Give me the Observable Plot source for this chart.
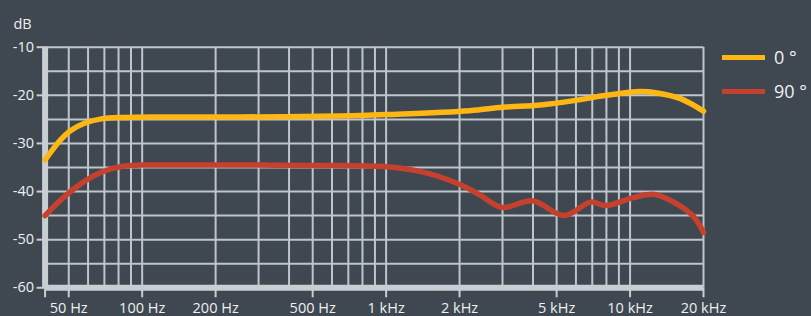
<!DOCTYPE html>
<html>
<head>
<meta charset="utf-8">
<script src="https://cdn.jsdelivr.net/npm/d3@7"></script>
<script src="https://cdn.jsdelivr.net/npm/@observablehq/plot@0.6"></script>
<style>
  html, body { margin: 0; padding: 0; background: #3f4750; }
  #wrap { position: relative; width: 811px; height: 316px; background: #3f4750; font-family: "Open Sans", "Noto Sans", sans-serif; }
  #wrap svg { overflow: visible; }
  #legend { position: absolute; left: 722px; top: 40px; color: #eef0f2; font-size: 18px; }
  .item { display: flex; align-items: center; height: 34px; }
  .swatch { width: 43px; height: 5px; margin-right: 9px; }
</style>
</head>
<body>
<div id="wrap"><div id="legend"></div></div>
<script>
// Series: 0° (on-axis) and 90° response
const yellowHz = [40, 46, 51, 58, 68, 84, 119, 250, 650, 1000, 2200, 3000, 4300, 5900, 8000, 11000, 12900, 16100, 20000];
const yellowDb = [-33.4, -29.4, -27.3, -25.8, -24.9, -24.6, -24.5, -24.5, -24.3, -24.0, -23.2, -22.5, -22.0, -21.1, -20.0, -19.2, -19.5, -20.7, -23.3];
const redHz = [40, 46, 56, 68, 82, 98, 120, 300, 650, 1040, 1430, 1830, 2220, 2440, 2990, 3980, 5370, 6900, 7950, 10400, 12600, 15600, 18300, 20000];
const redDb = [-45.0, -41.9, -38.4, -36.0, -34.8, -34.5, -34.5, -34.5, -34.6, -34.9, -36.0, -37.7, -39.6, -40.8, -43.3, -41.9, -45.0, -42.2, -42.9, -41.2, -40.6, -42.6, -45.3, -48.5];
const seriesNames = ["0 °", "90 °"];
const seriesColors = ["#fdb714", "#c6402e"];

// Axes
const xTicks = [40, 50, 100, 200, 500, 1000, 2000, 5000, 10000, 20000];
const xTickLabels = ["", "50 Hz", "100 Hz", "200 Hz", "500 Hz", "1 kHz", "2 kHz", "5 kHz", "10 kHz", "20 kHz"];
const xGrid = [40, 50, 60, 70, 80, 90, 100, 200, 300, 400, 500, 600, 700, 800, 900, 1000, 2000, 3000, 4000, 5000, 6000, 7000, 8000, 9000, 10000, 20000];
const yTicks = [-60, -50, -40, -30, -20, -10];
const yGrid = [-60, -55, -50, -45, -40, -35, -30, -25, -20, -15, -10];
const yLabel = "dB";

const yellow = yellowHz.map((f, i) => ({f, db: yellowDb[i]}));
const red = redHz.map((f, i) => ({f, db: redDb[i]}));

const gridColor = "#bfc5cb";
const axisColor = "#c9ced3";
const textColor = "#eef0f2";

const chart = Plot.plot({
  width: 811,
  height: 316,
  marginLeft: 44.6,
  marginRight: 108,
  marginTop: 46.7,
  marginBottom: 28.7,
  style: {background: "transparent", color: textColor, fontFamily: "'Open Sans', 'Noto Sans', sans-serif", fontSize: "14px"},
  x: {type: "log", domain: [40, 20000]},
  y: {domain: [-60, -10]},
  marks: [
    Plot.ruleX(xGrid, {stroke: gridColor, strokeWidth: 2}),
    Plot.ruleY(yGrid, {stroke: gridColor, strokeWidth: 2}),
    Plot.ruleX([40], {stroke: axisColor, strokeWidth: 6}),
    Plot.ruleY([-60], {stroke: axisColor, strokeWidth: 6}),
    Plot.axisX(xTicks, {tickSize: 10, stroke: axisColor, strokeWidth: 2, tickFormat: () => "", label: null}),
    Plot.text(xTicks, {x: (d) => d, text: (d, i) => xTickLabels[i], frameAnchor: "bottom", lineAnchor: "middle", dy: 21, fill: textColor, fontSize: 14.5}),
    Plot.axisY(yTicks, {tickSize: 8, tickPadding: 3, stroke: axisColor, strokeWidth: 2, fill: textColor, fontSize: 14.5,
      tickFormat: (d) => String(d), label: null}),
    Plot.line(yellow, {x: "f", y: "db", stroke: seriesColors[0], strokeWidth: 5.5, curve: "catmull-rom", strokeLinecap: "round"}),
    Plot.line(red, {x: "f", y: "db", stroke: seriesColors[1], strokeWidth: 5.5, curve: "catmull-rom", strokeLinecap: "round"}),
    Plot.text([yLabel], {frameAnchor: "top-left", dx: -31.6, dy: -28.7, textAnchor: "start", fill: textColor, fontSize: 14.5})
  ]
});
document.getElementById("wrap").prepend(chart);

const legend = document.getElementById("legend");
seriesNames.forEach((name, i) => {
  const item = document.createElement("div");
  item.className = "item";
  const sw = document.createElement("div");
  sw.className = "swatch";
  sw.style.background = seriesColors[i];
  const label = document.createElement("span");
  label.textContent = name;
  item.appendChild(sw);
  item.appendChild(label);
  legend.appendChild(item);
});
</script>
</body>
</html>
